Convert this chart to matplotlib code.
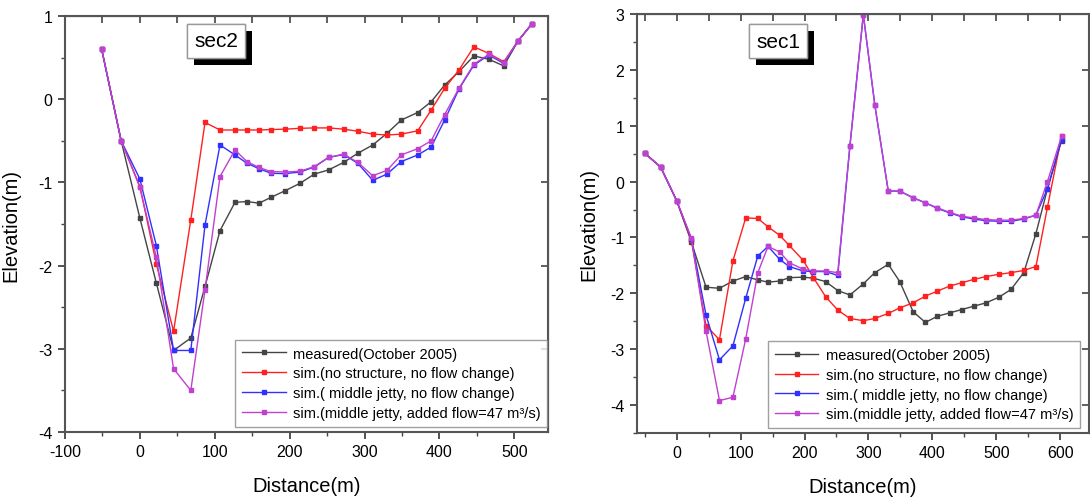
import matplotlib
matplotlib.use('Agg')
import matplotlib.pyplot as plt
from matplotlib.ticker import MultipleLocator
from matplotlib import patheffects

plt.rcParams['font.family'] = ['Liberation Sans', 'DejaVu Sans']
plt.rcParams['axes.unicode_minus'] = False

# ---- data: sec2 (left panel)
x_sec2 = [-51, -25, 0, 22, 45, 68, 87, 107, 127, 143, 159, 175, 194, 214, 233,
          252, 272, 291, 311, 330, 349, 371, 389, 407, 426, 446, 466, 486, 505, 523]
meas_sec2 = [0.6, -0.5, -1.43, -2.21, -3.02, -2.87, -2.25, -1.58, -1.24, -1.23,
             -1.25, -1.18, -1.10, -1.01, -0.90, -0.85, -0.76, -0.65, -0.55, -0.41,
             -0.25, -0.16, -0.03, 0.17, 0.33, 0.52, 0.48, 0.40, 0.70, 0.90]
nostruct_sec2 = [0.6, -0.5, -1.05, -1.98, -2.79, -1.45, -0.28, -0.37, -0.37, -0.37,
                 -0.37, -0.365, -0.36, -0.35, -0.345, -0.345, -0.36, -0.385, -0.42, -0.43,
                 -0.42, -0.38, -0.13, 0.13, 0.35, 0.63, 0.55, 0.45, 0.70, 0.90]
jetty_sec2 = [0.6, -0.5, -0.96, -1.76, -3.02, -3.02, -1.51, -0.55, -0.67, -0.77,
              -0.835, -0.89, -0.895, -0.875, -0.815, -0.70, -0.665, -0.77, -0.975, -0.90,
              -0.75, -0.67, -0.575, -0.25, 0.12, 0.41, 0.53, 0.43, 0.70, 0.90]
flow_sec2 = [0.6, -0.5, -1.06, -1.9, -3.24, -3.5, -2.29, -0.93, -0.61, -0.75,
             -0.82, -0.87, -0.875, -0.865, -0.81, -0.70, -0.66, -0.76, -0.92, -0.855,
             -0.67, -0.595, -0.50, -0.185, 0.13, 0.42, 0.54, 0.44, 0.70, 0.90]

# ---- data: sec1 (right panel)
x_sec1 = [-50, -25, 0, 23, 46, 67, 88, 108, 127, 143, 161, 176, 198, 214, 233, 252, 271,
          292, 310, 331, 349, 370, 389, 408, 427, 446, 465, 484, 504, 523, 543, 562, 580, 602]
meas_sec1 = [0.51, 0.26, -0.34, -1.08, -1.89, -1.91, -1.78, -1.70, -1.76, -1.80,
             -1.78, -1.72, -1.71, -1.73, -1.79, -1.95, -2.03, -1.83, -1.63, -1.48,
             -1.79, -2.33, -2.52, -2.41, -2.35, -2.29, -2.23, -2.17, -2.07, -1.93,
             -1.63, -0.93, -0.13, 0.73]
nostruct_sec1 = [0.51, 0.26, -0.34, -1.05, -2.58, -2.83, -1.42, -0.65, -0.66, -0.81,
                 -0.96, -1.14, -1.41, -1.72, -2.06, -2.30, -2.45, -2.49, -2.45, -2.36,
                 -2.26, -2.17, -2.05, -1.96, -1.87, -1.81, -1.75, -1.70, -1.66, -1.63,
                 -1.59, -1.52, -0.46, 0.81]
jetty_sec1 = [0.51, 0.26, -0.34, -1.02, -2.39, -3.19, -2.94, -2.09, -1.33, -1.16,
              -1.39, -1.52, -1.60, -1.61, -1.61, -1.68, 0.63, 2.99, 1.37, -0.17,
              -0.17, -0.29, -0.38, -0.48, -0.56, -0.63, -0.67, -0.70, -0.71, -0.71,
              -0.67, -0.60, -0.13, 0.75]
flow_sec1 = [0.51, 0.26, -0.34, -1.01, -2.68, -3.92, -3.86, -2.82, -1.63, -1.16,
             -1.26, -1.45, -1.57, -1.60, -1.60, -1.63, 0.64, 2.99, 1.37, -0.17,
             -0.17, -0.29, -0.38, -0.47, -0.55, -0.62, -0.65, -0.68, -0.69, -0.69,
             -0.66, -0.60, 0.0, 0.81]

labels = ['measured(October 2005)',
          'sim.(no structure, no flow change)',
          'sim.( middle jetty, no flow change)',
          'sim.(middle jetty, added flow=47 m³/s)']
colors = ['#444444', '#ff2020', '#3030ff', '#c040d0']


def draw_panel(ax, x, series, xlim, ylim, xmajor, top_step, name, name_pos, leg_anchor):
    for ys, c, lab in zip(series, colors, labels):
        ax.plot(x, ys, color=c, lw=1.0, marker='s', ms=2.6, mec=c, mfc=c, label=lab)
    ax.set_xlim(*xlim)
    ax.set_ylim(*ylim)
    ax.xaxis.set_major_locator(MultipleLocator(xmajor))
    ax.xaxis.set_minor_locator(MultipleLocator(xmajor / 2))
    ax.yaxis.set_major_locator(MultipleLocator(1))
    ax.yaxis.set_minor_locator(MultipleLocator(0.5))
    ax.tick_params(which='major', direction='out', length=5, width=1.3,
                   labelsize=11.5, color='#444444', pad=4)
    ax.tick_params(which='minor', direction='out', length=3, width=1.0, color='#444444')
    for s in ax.spines.values():
        s.set_linewidth(1.5)
        s.set_color('#555555')

    # inward ticks on top and right
    top = ax.secondary_xaxis('top')
    top.xaxis.set_major_locator(MultipleLocator(top_step))
    top.tick_params(direction='in', length=5, width=1.2, labeltop=False, color='#444444')
    right = ax.secondary_yaxis('right')
    right.yaxis.set_major_locator(MultipleLocator(1))
    right.tick_params(direction='in', length=5, width=1.2, labelright=False, color='#444444')

    ax.set_xlabel('Distance(m)', fontsize=14.5)
    ax.set_ylabel('Elevation(m)', fontsize=14.5)

    t = ax.text(name_pos[0], name_pos[1], name, transform=ax.transAxes, fontsize=15,
                ha='center', va='center',
                bbox=dict(boxstyle='square,pad=0.35', fc='white', ec='#999999', lw=1))
    t.get_bbox_patch().set_path_effects([
        patheffects.withSimplePatchShadow(offset=(5, -5), shadow_rgbFace='black', alpha=1.0),
        patheffects.Normal()])

    leg = ax.legend(loc='lower right', bbox_to_anchor=leg_anchor, fontsize=10.5,
                    frameon=True, fancybox=False, edgecolor='#888888',
                    handlelength=3.0, handletextpad=0.5, borderpad=0.45,
                    labelspacing=0.4, borderaxespad=0)
    leg.get_frame().set_linewidth(1.0)


fig = plt.figure(figsize=(10.9, 5.02), dpi=100)
ax1 = fig.add_axes([65 / 1090, 1 - 433 / 502, 483 / 1090, 416 / 502])
ax2 = fig.add_axes([637 / 1090, 1 - 434 / 502, 452 / 1090, 419 / 502])

draw_panel(ax1, x_sec2, [meas_sec2, nostruct_sec2, jetty_sec2, flow_sec2],
           (-100, 545), (-4, 1), 100, 50, 'sec2', (0.313, 0.94), (0.998, 0.013))
draw_panel(ax2, x_sec1, [meas_sec1, nostruct_sec1, jetty_sec1, flow_sec1],
           (-62, 645), (-4.5, 3), 100, 50, 'sec1', (0.312, 0.935), (0.98, 0.012))

ax1.xaxis.set_label_coords(0.5, -0.105)
ax2.xaxis.set_label_coords(0.5, -0.105)
ax1.yaxis.set_label_coords(-0.093, 0.5)
ax2.yaxis.set_label_coords(-0.085, 0.5)

fig.savefig('out.png', dpi=100)
